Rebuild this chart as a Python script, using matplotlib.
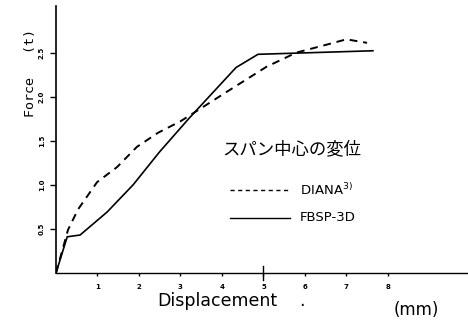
import matplotlib.pyplot as plt

# FBSP-3D (solid)
fbsp_x = [0.0, 0.27, 0.58, 1.23, 1.86, 2.5, 3.2, 4.34, 4.87, 7.64]
fbsp_y = [0.0, 0.41, 0.43, 0.69, 1.0, 1.375, 1.75, 2.33, 2.48, 2.52]

# DIANA (dashed)
diana_x = [0.0, 0.29, 0.53, 0.99, 1.47, 1.95, 2.46, 3.0, 3.47, 4.27, 5.08, 5.8, 6.53, 7.0, 7.5]
diana_y = [0.0, 0.49, 0.72, 1.03, 1.2, 1.43, 1.59, 1.72, 1.86, 2.1, 2.34, 2.5, 2.59, 2.65, 2.61]

x_ticks = [1, 2, 3, 4, 5, 6, 7, 8]
y_ticks = [0.5, 1.0, 1.5, 2.0, 2.5]
y_labels = ['0.5', '1.0', '1.5', '2.0', '2.5']

plt.rcParams['font.family'] = ['DejaVu Sans', 'Noto Sans CJK JP']

fig = plt.figure(figsize=(4.68, 3.23), dpi=100)
ax = fig.add_axes([0.1197, 0.155, 0.880, 0.827])

ax.plot(fbsp_x, fbsp_y, color='black', lw=1.2)
ax.plot(diana_x, diana_y, color='black', lw=1.4, dashes=(4, 3))

ax.set_xlim(0, 9.93)
ax.set_ylim(0, 3.03)
ax.spines['top'].set_visible(False)
ax.spines['right'].set_visible(False)
ax.spines['left'].set_linewidth(1.2)
ax.spines['bottom'].set_linewidth(1.0)

ax.set_xticks(x_ticks)
ax.set_xticklabels([str(t) for t in x_ticks], fontsize=5, fontweight='bold')
ax.tick_params(axis='x', length=2, width=1, pad=6)
ax.set_yticks(y_ticks)
ax.set_yticklabels(y_labels, fontsize=5, fontweight='bold', rotation=90, va='center')
ax.tick_params(axis='y', length=4, width=1, pad=4)

# long tick at 5 crossing the axis
ax.plot([5, 5], [-0.08, 0.08], color='black', lw=1, clip_on=False)

fig.text(0.066, 0.774, 'Force   (t)', rotation=90, fontsize=9.6, ha='center', va='center',
         family='DejaVu Sans Mono')
fig.text(0.335, 0.068, 'Displacement', fontsize=12.5, ha='left', va='center')
fig.text(0.645, 0.068, '.', fontsize=12.5, ha='center', va='center')
fig.text(0.89, 0.04, '(mm)', fontsize=12, ha='center', va='center')

ax.text(4.02, 1.40, 'スパン中心の変位', fontsize=12.5, family='Noto Sans CJK JP', va='center')
ax.plot([4.19, 5.64], [0.94, 0.94], color='black', lw=1.0, dashes=(3, 2.5))
ax.text(5.88, 0.94, 'DIANA$^{3)}$', fontsize=9.5, va='center')
ax.plot([4.19, 5.64], [0.625, 0.625], color='black', lw=1.0)
ax.text(5.88, 0.625, 'FBSP-3D', fontsize=9.5, va='center')

fig.savefig('out.png', dpi=100)
